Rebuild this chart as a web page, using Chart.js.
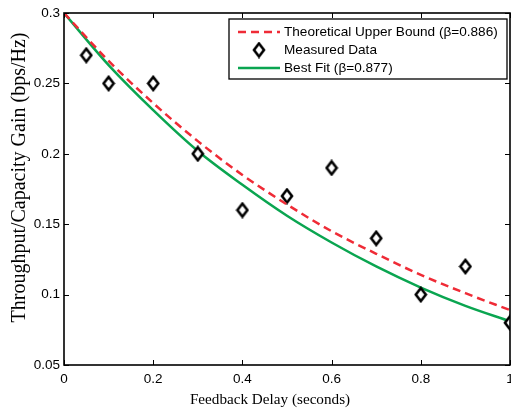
<!DOCTYPE html>
<html>
<head>
<meta charset="utf-8">
<script src="https://cdn.jsdelivr.net/npm/chart.js@4/dist/chart.umd.min.js"></script>
<style>
  html, body { margin: 0; padding: 0; background: #fff; overflow: hidden; }
  #wrap { width: 511px; height: 413px; }
</style>
</head>
<body>
<div id="wrap"><canvas id="chart"></canvas></div>
<script>
// Feedback delay (s) for the curves
const delayCurve = [0, 0.1, 0.2, 0.3, 0.4, 0.5, 0.6, 0.7, 0.8, 0.9, 1.0];
// Theoretical upper bound (beta = 0.886)
const upperBound = [0.300, 0.266, 0.236, 0.209, 0.185, 0.164, 0.145, 0.129, 0.114, 0.101, 0.089];
// Best fit (beta = 0.877)
const bestFit = [0.300, 0.263, 0.231, 0.202, 0.178, 0.156, 0.137, 0.120, 0.105, 0.092, 0.081];

// Measured data
const delayMeasured = [0.05, 0.1, 0.2, 0.3, 0.4, 0.5, 0.6, 0.7, 0.8, 0.9, 1.0];
const measured = [0.27, 0.25, 0.25, 0.20, 0.16, 0.17, 0.19, 0.14, 0.10, 0.12, 0.08];

const xTicks = [0, 0.2, 0.4, 0.6, 0.8, 1];
const yTicks = [0.05, 0.1, 0.15, 0.2, 0.25, 0.3];

const labels = [
  'Theoretical Upper Bound (\u03B2=0.886)',
  'Measured Data',
  'Best Fit (\u03B2=0.877)'
];
const xTitle = 'Feedback Delay (seconds)';
const yTitle = 'Throughput/Capacity Gain (bps/Hz)';

const RED = '#ef2b36';
const GREEN = '#0aa550';
const SANS = '"Liberation Sans", Arial, sans-serif';
const SERIF = '"Liberation Serif", "Times New Roman", serif';

// diamond marker, a bit taller than wide (MATLAB style)
function makeDiamond() {
  const c = document.createElement('canvas');
  c.width = 14; c.height = 17;
  const g = c.getContext('2d');
  g.beginPath();
  g.moveTo(7, 2);
  g.lineTo(12, 8.5);
  g.lineTo(7, 15);
  g.lineTo(2, 8.5);
  g.closePath();
  g.fillStyle = '#fff';
  g.fill();
  g.lineWidth = 2.6;
  g.strokeStyle = '#000';
  g.stroke();
  return c;
}
const diamond = makeDiamond();

const toXY = (xs, ys) => xs.map((x, i) => ({ x: x, y: ys[i] }));

// box + inward ticks + legend + axis titles
const framePlugin = {
  id: 'frame',
  afterDatasetsDraw(chart) {
    const { ctx, chartArea: a, scales } = chart;
    ctx.save();
    ctx.strokeStyle = '#000';
    ctx.lineWidth = 1.6;
    ctx.strokeRect(a.left, a.top, a.right - a.left, a.bottom - a.top);
    ctx.lineWidth = 1;
    const tl = 5;
    xTicks.forEach(v => {
      const px = Math.round(scales.x.getPixelForValue(v)) + 0.5;
      ctx.beginPath();
      ctx.moveTo(px, a.bottom); ctx.lineTo(px, a.bottom - tl);
      ctx.moveTo(px, a.top); ctx.lineTo(px, a.top + tl);
      ctx.stroke();
    });
    yTicks.forEach(v => {
      const py = Math.round(scales.y.getPixelForValue(v)) + 0.5;
      ctx.beginPath();
      ctx.moveTo(a.left, py); ctx.lineTo(a.left + tl, py);
      ctx.moveTo(a.right, py); ctx.lineTo(a.right - tl, py);
      ctx.stroke();
    });

    // legend
    const lx = 229, ly = 19, lw = 278, lh = 60;
    ctx.fillStyle = '#fff';
    ctx.fillRect(lx, ly, lw, lh);
    ctx.lineWidth = 1.3;
    ctx.strokeRect(lx, ly, lw, lh);
    const rows = [32, 50, 68];
    ctx.font = '13.6px ' + SANS;
    ctx.fillStyle = '#000';
    ctx.textBaseline = 'middle';
    ctx.textAlign = 'left';
    labels.forEach((t, i) => ctx.fillText(t, 284, rows[i] + 0.5));
    ctx.lineWidth = 2.5;
    ctx.strokeStyle = RED;
    ctx.setLineDash([8, 5]);
    ctx.beginPath(); ctx.moveTo(238, rows[0]); ctx.lineTo(280, rows[0]); ctx.stroke();
    ctx.setLineDash([]);
    ctx.strokeStyle = GREEN;
    ctx.beginPath(); ctx.moveTo(238, rows[2]); ctx.lineTo(280, rows[2]); ctx.stroke();
    ctx.drawImage(diamond, 259 - 7, rows[1] - 8.5);

    // axis titles
    ctx.fillStyle = '#000';
    ctx.textAlign = 'center';
    ctx.textBaseline = 'middle';
    ctx.font = '15.2px ' + SERIF;
    ctx.fillText(xTitle, 270, 400);
    ctx.translate(20, 177.5);
    ctx.rotate(-Math.PI / 2);
    ctx.font = '20px ' + SERIF;
    ctx.fillText(yTitle, 0, 0);
    ctx.restore();
  }
};

new Chart(document.getElementById('chart'), {
  type: 'scatter',
  data: {
    datasets: [
      {
        label: labels[0],
        type: 'line',
        data: toXY(delayCurve, upperBound),
        borderColor: RED,
        borderWidth: 2.5,
        borderDash: [8, 5],
        pointRadius: 0,
        cubicInterpolationMode: 'monotone',
        fill: false
      },
      {
        label: labels[1],
        data: toXY(delayMeasured, measured),
        pointStyle: diamond,
        pointRadius: 6,
        showLine: false
      },
      {
        label: labels[2],
        type: 'line',
        data: toXY(delayCurve, bestFit),
        borderColor: GREEN,
        borderWidth: 2.5,
        pointRadius: 0,
        cubicInterpolationMode: 'monotone',
        fill: false
      }
    ]
  },
  options: {
    responsive: true,
    maintainAspectRatio: false,
    animation: false,
    layout: { autoPadding: false, padding: { top: 13, right: 1, left: 0, bottom: 0 } },
    plugins: {
      legend: { display: false },
      tooltip: { enabled: false }
    },
    scales: {
      x: {
        type: 'linear',
        min: 0, max: 1,
        grid: { display: false, drawTicks: false },
        border: { display: false },
        afterBuildTicks: s => { s.ticks = xTicks.map(v => ({ value: v })); },
        afterFit: s => { s.height = 48; s.paddingLeft = 0; s.paddingRight = 0; },
        ticks: {
          color: '#000',
          padding: 6,
          maxRotation: 0,
          font: { family: SANS, size: 13.5 },
          callback: v => String(v)
        },
        title: { display: false }
      },
      y: {
        min: 0.05, max: 0.3,
        grid: { display: false, drawTicks: false },
        border: { display: false },
        afterBuildTicks: s => { s.ticks = yTicks.map(v => ({ value: v })); },
        afterFit: s => { s.width = 64; s.paddingTop = 0; s.paddingBottom = 0; },
        ticks: {
          color: '#000',
          padding: 4,
          font: { family: SANS, size: 13.5 },
          callback: v => String(v)
        },
        title: { display: false }
      }
    }
  },
  plugins: [framePlugin]
});
</script>
</body>
</html>
